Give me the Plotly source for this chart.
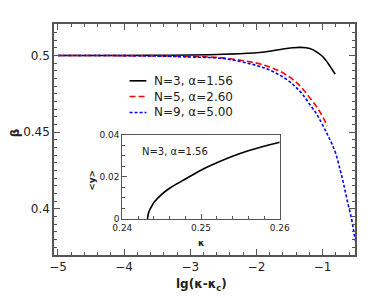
import plotly.graph_objects as go

# ---- data ----
n3_x = [-5.0, -4.0, -3.5, -3.0, -2.5, -2.0, -1.8, -1.6, -1.45, -1.34, -1.25, -1.15, -1.08, -1.0, -0.95, -0.9, -0.85, -0.81]
n3_y = [0.5, 0.5, 0.5001, 0.5003, 0.5008, 0.5018, 0.5028, 0.5042, 0.5050, 0.5053, 0.5050, 0.5038, 0.5020, 0.4993, 0.4968, 0.4938, 0.4905, 0.4878]

n5_x = [-5.0, -4.0, -3.5, -3.0, -2.5, -2.0, -1.8, -1.64, -1.5, -1.39, -1.3, -1.19, -1.1, -1.04, -0.98, -0.93]
n5_y = [0.5, 0.4999, 0.4997, 0.4993, 0.4984, 0.4950, 0.4925, 0.4896, 0.4860, 0.4822, 0.4782, 0.4722, 0.4672, 0.4632, 0.4585, 0.4540]

n9_x = [-5.0, -4.0, -3.5, -3.0, -2.5, -2.0, -1.8, -1.64, -1.5, -1.39, -1.3, -1.19, -1.1, -1.04, -0.95, -0.91, -0.86, -0.8, -0.735, -0.68, -0.63, -0.56, -0.52, -0.49]
n9_y = [0.5, 0.4999, 0.4996, 0.4990, 0.4980, 0.4935, 0.4905, 0.4870, 0.4830, 0.4787, 0.4745, 0.4679, 0.4625, 0.4581, 0.4505, 0.4470, 0.4425, 0.4360, 0.4254, 0.4160, 0.4060, 0.3930, 0.3830, 0.3760]

inset_k = [0.2432, 0.2433, 0.2435, 0.2438, 0.244, 0.245, 0.246, 0.247, 0.248, 0.250, 0.252, 0.254, 0.256, 0.258, 0.260]
inset_y = [0.0, 0.0025, 0.0045, 0.0065, 0.0078, 0.0117, 0.0146, 0.0169, 0.0190, 0.0232, 0.0267, 0.0298, 0.0324, 0.0346, 0.0365]

labels = ["N=3, \u03b1=1.56", "N=5, \u03b1=2.60", "N=9, \u03b1=5.00"]
colors = ["black", "red", "blue"]
dashes = ["solid", "6px,3px", "3px,2px"]
main_xticks = [-5, -4, -3, -2, -1]
main_xticklabels = ["\u22125", "\u22124", "\u22123", "\u22122", "\u22121"]
main_yticks = [0.4, 0.45, 0.5]
main_yticklabels = ["0.4", "0.45", "0.5"]
inset_xticks = [0.24, 0.25, 0.26]
inset_xticklabels = ["0.24", "0.25", "0.26"]
inset_yticks = [0, 0.02, 0.04]
inset_yticklabels = ["0", "0.02", "0.04"]

FONT = "DejaVu Sans"
AX = "#555555"
TXT = "#222222"

fig = go.Figure()
for xs, ys, c, d, lab in zip([n3_x, n5_x, n9_x], [n3_y, n5_y, n9_y], colors, dashes, labels):
    fig.add_trace(go.Scatter(x=xs, y=ys, mode="lines", name=lab, showlegend=False,
                             line=dict(color=c, width=1.6, dash=d, shape="spline")))
fig.add_trace(go.Scatter(x=inset_k, y=inset_y, mode="lines", showlegend=False,
                         line=dict(color="black", width=1.6, shape="spline"),
                         xaxis="x2", yaxis="y2"))

fig.update_layout(
    width=374, height=290,
    margin=dict(l=46, r=27, t=16, b=43),
    paper_bgcolor="white", plot_bgcolor="white",
    font=dict(family=FONT, size=12, color=TXT),
    showlegend=False,
    xaxis=dict(range=[-5.06, -0.51], tickvals=main_xticks, ticktext=main_xticklabels,
               ticks="inside", ticklen=6, tickcolor=AX, tickwidth=1.2,
               minor=dict(dtick=0.2, ticks="inside", ticklen=3, tickcolor=AX),
               showline=True, linecolor=AX, linewidth=1.5, mirror="ticks",
               showgrid=False, zeroline=False, tickfont=dict(size=12)),
    yaxis=dict(range=[0.370, 0.5205], tickvals=main_yticks, ticktext=main_yticklabels,
               ticks="inside", ticklen=6, tickcolor=AX, tickwidth=1.2,
               minor=dict(dtick=0.005, ticks="inside", ticklen=3, tickcolor=AX),
               showline=True, linecolor=AX, linewidth=1.5, mirror="ticks",
               showgrid=False, zeroline=False, tickfont=dict(size=12)),
    xaxis2=dict(domain=[0.227, 0.750], anchor="y2", range=[0.24, 0.26],
                tickvals=inset_xticks, ticktext=inset_xticklabels,
                ticks="inside", ticklen=5, tickcolor=AX,
                minor=dict(dtick=0.002, ticks="inside", ticklen=3, tickcolor=AX),
                showline=True, linecolor=AX, linewidth=1.2, mirror=True,
                showgrid=False, zeroline=False, tickfont=dict(size=9)),
    yaxis2=dict(domain=[0.156, 0.520], anchor="x2", range=[0, 0.04],
                tickvals=inset_yticks, ticktext=inset_yticklabels,
                ticks="inside", ticklen=5, tickcolor=AX,
                minor=dict(dtick=0.005, ticks="inside", ticklen=3, tickcolor=AX),
                showline=True, linecolor=AX, linewidth=1.2, mirror=True,
                showgrid=False, zeroline=False, tickfont=dict(size=9)),
)

# manual legend
leg_rows = [0.754, 0.686, 0.617]
for ry, c, d, lab in zip(leg_rows, colors, dashes, labels):
    fig.add_shape(type="line", xref="paper", yref="paper", x0=0.251, x1=0.307, y0=ry, y1=ry,
                  line=dict(color=c, width=1.6, dash=d))
    fig.add_annotation(text=lab, xref="paper", yref="paper", x=0.326, y=ry,
                       xanchor="left", yanchor="middle", showarrow=False,
                       font=dict(size=12, color=TXT))

fig.add_annotation(text="<b>lg(\u03ba-\u03ba<sub>c</sub>)</b>", xref="paper", yref="paper",
                   x=0.49, y=-0.13, xanchor="center", yanchor="middle", showarrow=False,
                   font=dict(size=12, color=TXT))
fig.add_annotation(text="<b>\u03b2</b>", xref="paper", yref="paper",
                   x=-0.131, y=0.53, xanchor="center", yanchor="middle", showarrow=False,
                   textangle=-90, font=dict(size=12, color=TXT))
fig.add_annotation(text="<b>\u03ba</b>", xref="x2 domain", yref="y2 domain",
                   x=0.5, y=-0.29, xanchor="center", yanchor="middle", showarrow=False,
                   font=dict(size=9, color=TXT))
fig.add_annotation(text="<b>&lt;y&gt;</b>", xref="x2 domain", yref="y2 domain",
                   x=-0.189, y=0.46, xanchor="center", yanchor="middle", showarrow=False,
                   textangle=-90, font=dict(size=9, color=TXT))
fig.add_annotation(text=labels[0], xref="x2", yref="y2",
                   x=0.2422, y=0.0319, xanchor="left", yanchor="middle", showarrow=False,
                   font=dict(size=10, color=TXT))

fig.write_html("out.html")
